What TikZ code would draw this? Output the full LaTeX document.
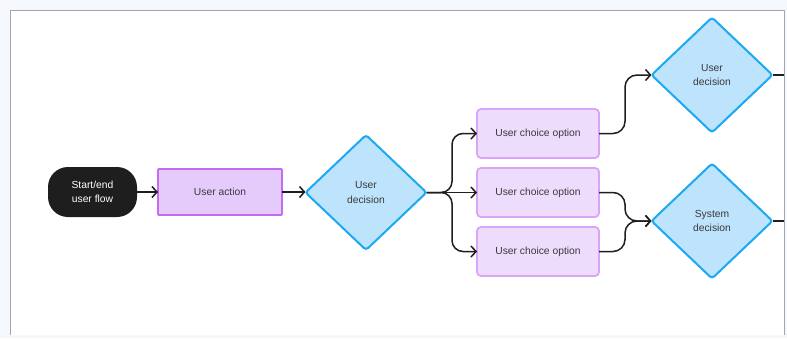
\documentclass[tikz,border=0pt]{standalone}
\usepackage{fontspec}
\setmainfont{Liberation Sans}
\usetikzlibrary{shapes.geometric,arrows.meta}

\definecolor{pagebg}{HTML}{F5F9FE}
\definecolor{framegray}{HTML}{A6A6A6}
\definecolor{inkdark}{HTML}{1E1E1E}
\definecolor{labelgray}{HTML}{3A3A3A}
\definecolor{actionfill}{HTML}{E4CBFB}
\definecolor{actionline}{HTML}{C66AF2}
\definecolor{choicefill}{HTML}{EEDCFD}
\definecolor{choiceline}{HTML}{DCA4F7}
\definecolor{decfill}{HTML}{BDE3FD}
\definecolor{decline}{HTML}{1CA9F4}

\tikzset{
  base/.style={font=\fontsize{10.3}{14.5}\selectfont, align=center, inner sep=0pt, outer sep=0pt, text=labelgray},
  startnode/.style={base, fill=inkdark, text=white, rounded corners=20pt,
    minimum width=89pt, minimum height=50pt},
  actionbox/.style={base, fill=actionfill, draw=actionline, line width=1.8pt,
    rounded corners=1pt, minimum width=124pt, minimum height=46pt},
  choicebox/.style={base, fill=choicefill, draw=choiceline, line width=1.8pt,
    rounded corners=4pt, minimum width=122pt, minimum height=49pt},
  decision/.style={base, diamond, fill=decfill, draw=decline, line width=2pt,
    rounded corners=3pt, minimum width=121pt, minimum height=115pt},
  arr/.style={draw=inkdark, line width=1.5pt, -{Straight Barb[length=5pt,width=11pt]}},
  plainline/.style={draw=inkdark, line width=1.5pt},
}

\begin{document}
\begin{tikzpicture}[x=1pt,y=-1pt]
  % page and frame
  \fill[pagebg] (0,0) rectangle (787,338);
  \fill[white] (10.3,10.3) rectangle (784.3,334.7);
  \draw[framegray, line width=1pt] (10.3,334.7) -- (10.3,10.3) -- (784.3,10.3) -- (784.3,334.7);
  \useasboundingbox (0,0) rectangle (787,338);

  % nodes
  \node[startnode] (start) at (92.5,192) {Start/end\\user flow};
  \node[actionbox] (action) at (220,192) {User action};
  \node[decision] (d1) at (366,192.5) {User\\decision};
  \node[choicebox] (c1) at (538,133.5) {User choice option};
  \node[choicebox] (c2) at (538,192.5) {User choice option};
  \node[choicebox] (c3) at (538,251.5) {User choice option};
  \node[decision] (d2) at (712,75) {User\\decision};
  \node[decision] (d3) at (712,221) {System\\decision};

  % routing columns and exits
  \coordinate (split) at (452,0);
  \coordinate (merge) at (625,0);
  \coordinate (exit2) at (784.3,75);
  \coordinate (exit3) at (784.3,221);

  % connectors
  \draw[arr] (start.east) -- (action.west);
  \draw[arr] (action.east) -- (action.east -| d1.west);
  \draw[arr, rounded corners=11pt] (d1.east) -| (split |- c1.west) -- (c1.west);
  \draw[arr] (d1.east) -- (c2.west);
  \draw[arr, rounded corners=11pt] (d1.east) -| (split |- c3.west) -- (c3.west);
  \draw[arr, rounded corners=12pt] (c1.east) -| (merge |- d2.west) -- (d2.west);
  \draw[arr, rounded corners=12pt] (c2.east) -| (merge |- d3.west) -- (d3.west);
  \draw[arr, rounded corners=12pt] (c3.east) -| (merge |- d3.west) -- (d3.west);
  \draw[plainline] (d2.east) -- (exit2);
  \draw[plainline] (d3.east) -- (exit3);
\end{tikzpicture}
\end{document}
